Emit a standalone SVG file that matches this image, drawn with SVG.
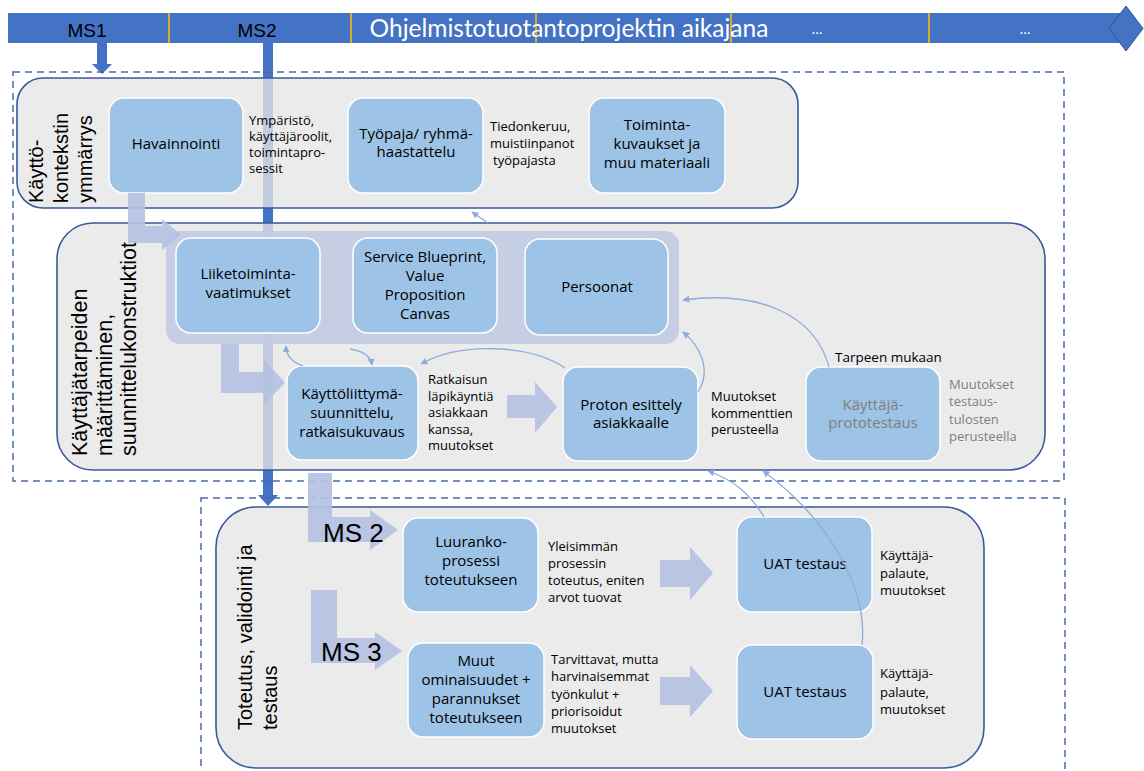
<svg xmlns="http://www.w3.org/2000/svg" width="1144" height="771" viewBox="0 0 1144 771">
<defs>
<style>
.panel{fill:#E6E6E6;fill-opacity:0.78;stroke:#38599B;stroke-width:1.6}
.box{fill:#9DC3E6;stroke:#FFFFFF;stroke-width:1.5}
.dash{fill:none;stroke:#4A6AA6;stroke-width:1.5;stroke-dasharray:7 5}
.blk{fill:#B4C1E1;fill-opacity:0.92}
.thin{fill:none;stroke:#8FAADC;stroke-width:1.3;marker-end:url(#ah)}
.bt{font-family:"Open Sans","Noto Sans",sans-serif;font-size:15px;fill:#000;text-anchor:middle}
.an{font-family:"Open Sans","Noto Sans",sans-serif;font-size:13px;fill:#000}
.gr{fill:#7F7F7F}
.side{font-family:"Liberation Sans",Arial,sans-serif;font-size:20px;fill:#000}
.ms{font-family:"Liberation Sans",Arial,sans-serif;font-size:26px;fill:#000}
.div{stroke:#FFC000;stroke-width:1.5}
</style>
<marker id="ah" viewBox="0 0 10 10" refX="9" refY="5" markerWidth="7" markerHeight="7" orient="auto" markerUnits="userSpaceOnUse">
<path d="M0,0 L10,5 L0,10 z" fill="#8FAADC"/>
</marker>
</defs>

<g id="timeline">
<rect x="8" y="13" width="1112" height="30" fill="#4472C4"/>
<polygon points="1109,28.5 1126,6 1143,28.5 1126,51" fill="#4472C4" stroke="#2F5597" stroke-width="1"/>
<line class="div" x1="169" y1="13" x2="169" y2="43"/>
<line class="div" x1="351" y1="13" x2="351" y2="43"/>
<line class="div" x1="536" y1="13" x2="536" y2="43"/>
<line class="div" x1="731" y1="13" x2="731" y2="43"/>
<line class="div" x1="929" y1="13" x2="929" y2="43"/>
<text x="87" y="37" font-family="Liberation Sans, Arial, sans-serif" font-size="19" text-anchor="middle" fill="#000">MS1</text>
<text x="257" y="37" font-family="Liberation Sans, Arial, sans-serif" font-size="19" text-anchor="middle" fill="#000">MS2</text>
<text x="569" y="37" font-family="Lato, 'Open Sans', sans-serif" font-size="24.5" text-anchor="middle" fill="#FFFFFF">Ohjelmistotuotantoprojektin aikajana</text>
<text x="817" y="34" font-family="Lato, sans-serif" font-size="14" text-anchor="middle" fill="#FFFFFF">…</text>
<text x="1025" y="34" font-family="Lato, sans-serif" font-size="14" text-anchor="middle" fill="#FFFFFF">…</text>
</g>

<g id="milestone-lines">
<polygon points="97,43 107,43 107,64 112,64 102,74 92,64 97,64" fill="#4472C4"/>
<polygon points="263,43 273,43 273,495 278,495 268,506 258,495 263,495" fill="#4472C4"/>
</g>

<g id="dashed-frames">
<rect class="dash" x="13" y="72" width="1051" height="409"/>
<rect class="dash" x="201" y="498" width="864" height="290"/>
</g>

<g id="panel-context">
<rect class="panel" x="17" y="78" width="781" height="130" rx="26"/>
<text class="side" transform="translate(43,203) rotate(-90)">Käyttö-</text>
<text class="side" transform="translate(68,203) rotate(-90)">kontekstin</text>
<text class="side" transform="translate(92,203) rotate(-90)">ymmärrys</text>
</g>

<g id="panel-needs">
<rect class="panel" x="57" y="223" width="988" height="247" rx="36"/>
<text class="side" style="font-size:21.5px" transform="translate(87,456) rotate(-90)">Käyttäjätarpeiden</text>
<text class="side" style="font-size:21.5px" transform="translate(112,456) rotate(-90)">määrittäminen,</text>
<text class="side" style="font-size:21.5px" transform="translate(136,456) rotate(-90)">suunnittelukonstruktiot</text>
</g>

<g id="panel-impl">
<rect class="panel" x="216" y="507" width="768" height="261" rx="40"/>
<text class="side" transform="translate(252,730) rotate(-90)">Toteutus, validointi ja</text>
<text class="side" transform="translate(277,730) rotate(-90)">testaus</text>
</g>

<g id="group-container">
<rect x="166" y="231" width="513" height="113" rx="14" fill="#C2CBE2" fill-opacity="0.9"/>
</g>

<g id="n-havainnointi">
<rect class="box" x="109" y="98" width="134" height="95" rx="15"/>
<text class="bt" x="176" y="149">Havainnointi</text>
</g>
<g id="t-ymparisto">
<text class="an" x="249" y="125">Ympäristö,</text>
<text class="an" x="249" y="141">käyttäjäroolit,</text>
<text class="an" x="249" y="157">toimintapro-</text>
<text class="an" x="249" y="173">sessit</text>
</g>
<g id="n-tyopaja">
<rect class="box" x="348" y="98" width="135" height="95" rx="15"/>
<text class="bt" x="416" y="139">Työpaja/ ryhmä-</text>
<text class="bt" x="416" y="157">haastattelu</text>
</g>
<g id="t-tiedonkeruu">
<text class="an" x="490" y="131">Tiedonkeruu,</text>
<text class="an" x="490" y="148">muistiinpanot</text>
<text class="an" x="493" y="165">työpajasta</text>
</g>
<g id="n-toiminta">
<rect class="box" x="589" y="98" width="136" height="95" rx="15"/>
<text class="bt" x="657" y="130">Toiminta-</text>
<text class="bt" x="657" y="149">kuvaukset ja</text>
<text class="bt" x="657" y="168">muu materiaali</text>
</g>

<g id="n-liiketoiminta">
<rect class="box" x="176" y="238" width="144" height="95" rx="15"/>
<text class="bt" x="248" y="279">Liiketoiminta-</text>
<text class="bt" x="248" y="298">vaatimukset</text>
</g>
<g id="n-blueprint">
<rect class="box" x="353" y="238" width="144" height="95" rx="15"/>
<text class="bt" x="425" y="262">Service Blueprint,</text>
<text class="bt" x="425" y="281">Value</text>
<text class="bt" x="425" y="300">Proposition</text>
<text class="bt" x="425" y="319">Canvas</text>
</g>
<g id="n-persoonat">
<rect class="box" x="525" y="239" width="143" height="96" rx="15"/>
<text class="bt" x="597" y="292">Persoonat</text>
</g>

<g id="n-kayttoliittyma">
<rect class="box" x="287" y="366" width="131" height="94" rx="15"/>
<text class="bt" x="352" y="399">Käyttöliittymä-</text>
<text class="bt" x="352" y="418">suunnittelu,</text>
<text class="bt" x="352" y="437">ratkaisukuvaus</text>
</g>
<g id="t-ratkaisun">
<text class="an" x="428" y="384">Ratkaisun</text>
<text class="an" x="428" y="400.5">läpikäyntiä</text>
<text class="an" x="428" y="417">asiakkaan</text>
<text class="an" x="428" y="433.5">kanssa,</text>
<text class="an" x="428" y="450">muutokset</text>
</g>
<g id="n-proton">
<rect class="box" x="563" y="367" width="135" height="94" rx="15"/>
<text class="bt" x="631" y="410">Proton esittely</text>
<text class="bt" x="631" y="428">asiakkaalle</text>
</g>
<g id="t-muutokset1">
<text class="an" x="711" y="401">Muutokset</text>
<text class="an" x="711" y="418">kommenttien</text>
<text class="an" x="711" y="434">perusteella</text>
</g>
<g id="n-prototestaus">
<rect class="box" x="806" y="367" width="134" height="94" rx="15"/>
<text class="bt gr" x="873" y="410">Käyttäjä-</text>
<text class="bt gr" x="873" y="428">prototestaus</text>
</g>
<g id="t-tarpeen">
<text class="an" x="835" y="362" style="font-size:13.5px">Tarpeen mukaan</text>
</g>
<g id="t-muutokset2">
<text class="an gr" x="949" y="389">Muutokset</text>
<text class="an gr" x="949" y="406">testaus-</text>
<text class="an gr" x="949" y="424">tulosten</text>
<text class="an gr" x="949" y="441">perusteella</text>
</g>

<g id="n-luuranko">
<rect class="box" x="403" y="518" width="135" height="94" rx="15"/>
<text class="bt" x="471" y="547">Luuranko-</text>
<text class="bt" x="471" y="566">prosessi</text>
<text class="bt" x="471" y="585">toteutukseen</text>
</g>
<g id="t-yleisimman">
<text class="an" x="548" y="551">Yleisimmän</text>
<text class="an" x="548" y="568">prosessin</text>
<text class="an" x="548" y="585">toteutus, eniten</text>
<text class="an" x="548" y="602">arvot tuovat</text>
</g>
<g id="n-muut">
<rect class="box" x="408" y="643" width="136" height="94" rx="15"/>
<text class="bt" x="476" y="666">Muut</text>
<text class="bt" x="476" y="685">ominaisuudet +</text>
<text class="bt" x="476" y="704">parannukset</text>
<text class="bt" x="476" y="723">toteutukseen</text>
</g>
<g id="t-tarvittavat">
<text class="an" x="551" y="664">Tarvittavat, mutta</text>
<text class="an" x="551" y="681">harvinaisemmat</text>
<text class="an" x="551" y="699">työnkulut +</text>
<text class="an" x="551" y="716">priorisoidut</text>
<text class="an" x="551" y="733">muutokset</text>
</g>
<g id="n-uat1">
<rect class="box" x="737" y="517" width="135" height="95" rx="15"/>
<text class="bt" x="805" y="569">UAT testaus</text>
</g>
<g id="t-palaute1">
<text class="an" x="880" y="560">Käyttäjä-</text>
<text class="an" x="880" y="578">palaute,</text>
<text class="an" x="880" y="595">muutokset</text>
</g>
<g id="n-uat2">
<rect class="box" x="737" y="645" width="136" height="94" rx="15"/>
<text class="bt" x="805" y="697">UAT testaus</text>
</g>
<g id="t-palaute2">
<text class="an" x="880" y="678">Käyttäjä-</text>
<text class="an" x="880" y="697">palaute,</text>
<text class="an" x="880" y="714">muutokset</text>
</g>

<g id="connectors">
<polygon class="blk" points="128,193 145,193 145,226 162,226 162,219 181,234.5 162,250 162,243 128,243"/>
<polygon class="blk" points="221,344 239,344 239,372 264,372 264,360 285,382.5 264,405 264,393 221,393"/>
<polygon class="blk" points="507,395 535,395 535,382 557,407 535,433 535,418 507,418"/>
<polygon class="blk" points="308,473 332,473 332,517 370,517 370,510 398,530 370,550 370,542 308,542"/>
<polygon class="blk" points="311,590 337,590 337,638 375,638 375,632 402,651 375,670 375,663 311,663"/>
<polygon class="blk" points="660,560 690,560 690,547 713,573 690,600 690,587 660,587"/>
<polygon class="blk" points="660,677 690,677 690,665 713,691 690,717 690,705 660,705"/>
<path class="thin" d="M488,223 L472,212"/>
<path class="thin" d="M303,366 Q286,360 286,346"/>
<path class="thin" d="M350,349 Q370,352 372,365"/>
<path class="thin" d="M565,368 C530,344 460,342 421,364"/>
<path class="thin" d="M698,392 C712,370 700,346 683,332"/>
<path class="thin" d="M829,367 C815,315 760,290 683,300"/>
<path class="thin" d="M764,517 C750,494 734,480 708,471"/>
<path class="thin" d="M862,645 C868,590 830,520 763,471"/>
<text class="ms" x="323" y="542">MS 2</text>
<text class="ms" x="321" y="661">MS 3</text>
</g>
</svg>
